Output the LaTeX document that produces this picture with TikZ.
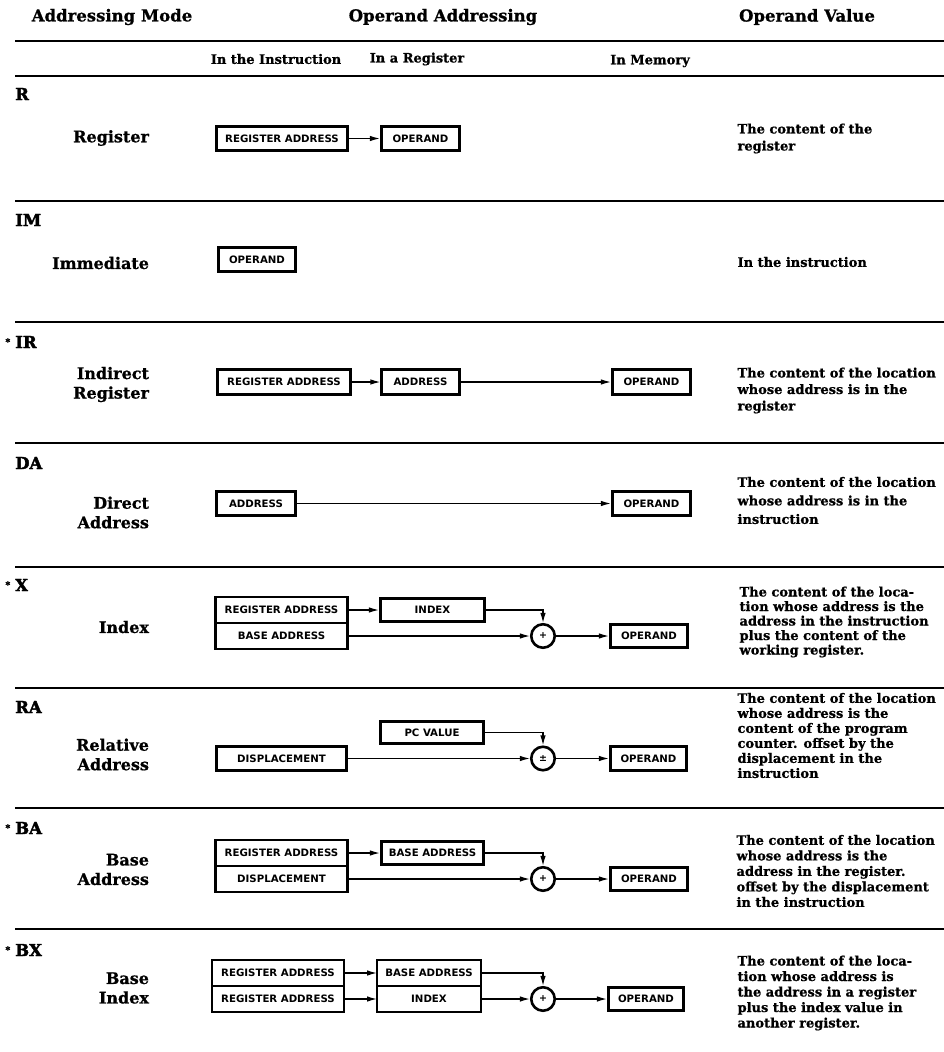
\documentclass[tikz,border=0pt]{standalone}
\usepackage{fontspec}
\setmainfont{DejaVu Serif}[BoldFeatures={FakeBold=0.8}]
\newfontfamily\heavyserif{DejaVu Serif}[BoldFeatures={FakeBold=2.5}]
\newfontfamily\boxfont{DejaVu Sans}
\usetikzlibrary{arrows.meta, fit}
\tikzset{regbox/.style={draw, line width=2.6pt, inner sep=0pt, minimum height=24.5pt, font=\boxfont\bfseries\fontsize{10.2}{12}\selectfont}}
\tikzset{partbox/.style={draw, line width=0.9pt, inner sep=0pt, minimum height=25pt, minimum width=131pt, font=\boxfont\bfseries\fontsize{10.2}{12}\selectfont}}
\tikzset{outerbox/.style={draw, line width=2.6pt, inner sep=0pt}}
\tikzset{sumnode/.style={circle, draw, line width=2.6pt, minimum size=23.5pt, inner sep=0pt, font=\boxfont\bfseries\fontsize{9.5}{10}\selectfont}}
\tikzset{feed/.style={-{Latex[length=10pt, width=5.5pt]}, line width=1.3pt}}
\tikzset{modecode/.style={anchor=west, inner sep=0pt, font=\heavyserif\bfseries\fontsize{16.5}{17}\selectfont}}
\tikzset{modename/.style={anchor=east, align=right, font=\bfseries\fontsize{16}{19.5}\selectfont}}
\tikzset{valuetext/.style={anchor=west, align=left, font=\bfseries\fontsize{13}{15.5}\selectfont}}
\tikzset{colhead/.style={font=\bfseries\fontsize{16.5}{18}\selectfont}}
\tikzset{subhead/.style={font=\bfseries\fontsize{13}{15}\selectfont}}
\newcommand{\starmark}{\llap{\raisebox{3pt}{\fontsize{9}{9}\selectfont*}\hspace{5pt}}}
\begin{document}
\begin{tikzpicture}[x=1pt, y=-1pt]
            \useasboundingbox (0, 0) rectangle (944, 1052);
            \foreach \y in {41, 76, 201, 322, 443, 567, 688, 808, 929} {
                \draw[line width=1.4pt] (15, \y) -- (944, \y);
            }
            \node[colhead] (hdMode) at (112, 17) {Addressing Mode};
            \node[colhead] (hdAddr) at (443, 17) {Operand Addressing};
            \node[colhead] (hdValue) at (807, 17) {Operand Value};
            \node[subhead] (shInstr) at (276, 59) {In the Instruction};
            \node[subhead] (shReg) at (417, 59) {In a Register};
            \node[subhead] (shMem) at (650, 61) {In Memory};
            \foreach \y/\code in {94/R, 220/IM, 342/{\starmark IR}, 463/DA, 585/{\starmark X}, 707/RA, 828/{\starmark BA}, 950/{\starmark BX}} {
                \node[modecode] (code\y) at (15, \y) {\code};
            }
            \foreach \y/\mode in {138/Register, 263/Immediate, 384.5/{Indirect\\Register}, 512.5/{Direct\\Address}, 627/Index, 754.5/{Relative\\Address}, 869.5/{Base\\Address}, 988/{Base\\Index}} {
                \node[modename] (mode\y) at (152.5, \y) {\mode};
            }
            \node[valuetext, font=\bfseries\fontsize{13}{17}\selectfont] (vR) at (734, 138.5) {The content of the\\register};
            \node[valuetext] (vIM) at (734, 262) {In the instruction};
            \node[valuetext, font=\bfseries\fontsize{13}{16.5}\selectfont] (vIR) at (734, 390.5) {The content of the location\\whose address is in the\\register};
            \node[valuetext, font=\bfseries\fontsize{13}{18.5}\selectfont] (vDA) at (734, 500.5) {The content of the location\\whose address is in the\\instruction};
            \node[valuetext, font=\bfseries\fontsize{13}{14.5}\selectfont] (vX) at (736, 622) {The content of the loca-\\tion whose address is the\\address in the instruction\\plus the content of the\\working register.};
            \node[valuetext, font=\bfseries\fontsize{13}{15}\selectfont] (vRA) at (734, 735.5) {The content of the location\\whose address is the\\content of the program\\counter. offset by the\\displacement in the\\instruction};
            \node[valuetext] (vBA) at (733, 871) {The content of the location\\whose address is the\\address in the register.\\offset by the displacement\\in the instruction};
            \node[valuetext] (vBX) at (734, 993) {The content of the loca-\\tion whose address is\\the address in a register\\plus the index value in\\another register.};
            % R
            \node[regbox, minimum width=131.5pt] (rReg) at (282, 138.5) {REGISTER ADDRESS};
            \node[regbox, minimum width=78.5pt] (rOp) at (420.5, 138.5) {OPERAND};
            \draw[feed] (rReg) -- (rOp);
            % IM
            \node[regbox, minimum width=77.5pt] (imOp) at (257, 259.5) {OPERAND};
            % IR
            \node[regbox, minimum width=133.5pt, minimum height=25.5pt] (irReg) at (284, 382) {REGISTER ADDRESS};
            \node[regbox, minimum width=77.5pt, minimum height=25.5pt] (irAddr) at (420.5, 382) {ADDRESS};
            \node[regbox, minimum width=78.5pt, minimum height=25.5pt] (irOp) at (651.5, 382) {OPERAND};
            \draw[feed] (irReg) -- (irAddr);
            \draw[feed] (irAddr) -- (irOp);
            % DA
            \node[regbox, minimum width=79.5pt] (daAddr) at (256, 503.5) {ADDRESS};
            \node[regbox, minimum width=78.5pt] (daOp) at (651.5, 503.5) {OPERAND};
            \draw[feed] (daAddr) -- (daOp);
            % X
            \node[partbox] (xReg) at (281.5, 610) {REGISTER ADDRESS};
            \node[partbox] (xBase) at (281.5, 636) {BASE ADDRESS};
            \node[outerbox, fit=(xReg)(xBase)] (xInstr) {};
            \node[regbox, minimum width=104.5pt, minimum height=23.5pt] (xIdx) at (432.5, 610) {INDEX};
            \node[sumnode] (xSum) at (543, 636) {+};
            \node[regbox, minimum width=77.5pt, minimum height=23.5pt] (xOp) at (649, 636) {OPERAND};
            \draw[feed] (xReg) -- (xIdx);
            \draw[feed] (xIdx.east) -| (xSum.north);
            \draw[feed] (xBase) -- (xSum);
            \draw[feed] (xSum) -- (xOp);
            % RA
            \node[regbox, minimum width=103.5pt, minimum height=22.5pt] (raPC) at (432, 732.5) {PC VALUE};
            \node[regbox, minimum width=130.5pt] (raDisp) at (281.5, 758.5) {DISPLACEMENT};
            \node[sumnode] (raSum) at (543, 758.5) {±};
            \node[regbox, minimum width=76.5pt] (raOp) at (648.5, 758.5) {OPERAND};
            \draw[feed] (raPC.east) -| (raSum.north);
            \draw[feed] (raDisp) -- (raSum);
            \draw[feed] (raSum) -- (raOp);
            % BA
            \node[partbox] (baReg) at (281.5, 853) {REGISTER ADDRESS};
            \node[partbox] (baDisp) at (281.5, 879) {DISPLACEMENT};
            \node[outerbox, fit=(baReg)(baDisp)] (baInstr) {};
            \node[regbox, minimum width=102.5pt, minimum height=23.5pt] (baBase) at (432.5, 853) {BASE ADDRESS};
            \node[sumnode] (baSum) at (543, 879) {+};
            \node[regbox, minimum width=77.5pt, minimum height=23.5pt] (baOp) at (649, 879) {OPERAND};
            \draw[feed] (baReg) -- (baBase);
            \draw[feed] (baBase.east) -| (baSum.north);
            \draw[feed] (baDisp) -- (baSum);
            \draw[feed] (baSum) -- (baOp);
            % BX
            \node[partbox] (bxRegA) at (278, 973) {REGISTER ADDRESS};
            \node[partbox] (bxRegB) at (278, 999) {REGISTER ADDRESS};
            \node[outerbox, fit=(bxRegA)(bxRegB)] (bxInstr) {};
            \node[partbox, minimum width=103pt] (bxBase) at (429, 973) {BASE ADDRESS};
            \node[partbox, minimum width=103pt] (bxIdx) at (429, 999) {INDEX};
            \node[outerbox, fit=(bxBase)(bxIdx)] (bxRegs) {};
            \node[sumnode] (bxSum) at (543, 999) {+};
            \node[regbox, minimum width=75.5pt, minimum height=23.5pt] (bxOp) at (646, 999) {OPERAND};
            \draw[feed] (bxRegA) -- (bxBase);
            \draw[feed] (bxRegB) -- (bxIdx);
            \draw[feed] (bxBase.east) -| (bxSum.north);
            \draw[feed] (bxIdx) -- (bxSum);
            \draw[feed] (bxSum) -- (bxOp);
\end{tikzpicture}
\end{document}
